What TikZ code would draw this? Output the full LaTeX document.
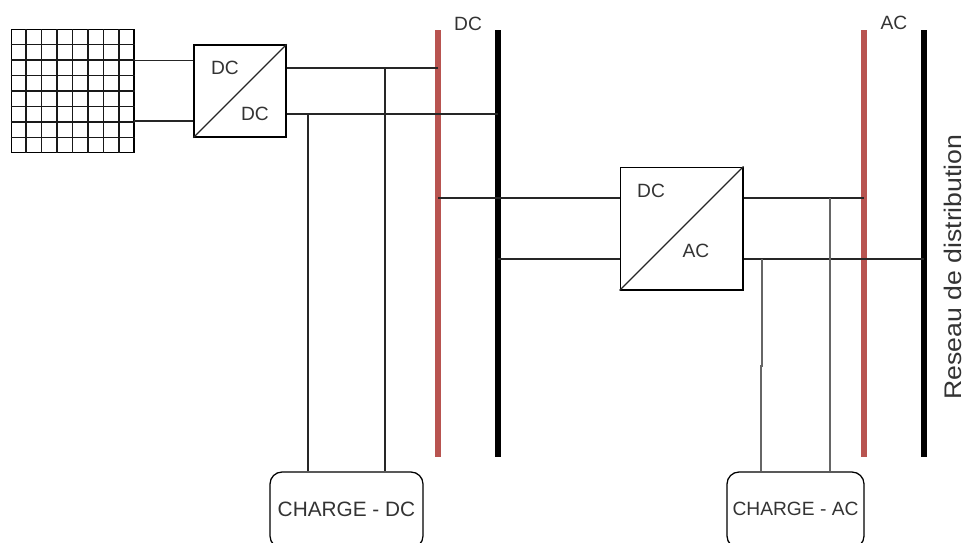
\documentclass[tikz,border=0pt]{standalone}
\usepackage{fontspec}
\usetikzlibrary{calc}
\setmainfont{Liberation Sans}
\definecolor{busred}{HTML}{B85450}
\definecolor{txtgray}{HTML}{333333}
\tikzset{
  conv/.style={draw,line width=1pt,rectangle,inner sep=0pt,minimum size=#1},
  charge/.style={draw,line width=0.95pt,rectangle,rounded corners=9pt,inner sep=0pt,minimum height=57pt,text=txtgray},
  wire/.style={draw=black!85,line width=0.85pt,-},
  gridline/.style={draw=black!90,line width=1pt,-},
  graywire/.style={draw=black!60,line width=1.05pt,-},
  busdc/.style={draw=busred,line width=4.5pt,-},
  busblack/.style={draw=black,line width=4.2pt,-},
  lbl/.style={text=txtgray,font=\fontsize{14.4}{16}\selectfont,inner sep=0pt}
}
\begin{document}
\begin{tikzpicture}[x=0.75pt,y=-0.75pt]
\useasboundingbox (0,0) rectangle (965,543);

\node[conv=92pt] (panel) at (72.5,91) {};
\node[conv=69pt] (conv1) at (240,91) {};
\node[conv=92pt] (conv2) at (681.5,228.5) {};
\node[charge,minimum width=114.75pt] (loaddc) at (346.5,510) {};
\node[charge,minimum width=102.75pt] (loadac) at (795.5,510) {};

\node[lbl] (c1in) at (225,68) {DC};
\node[lbl] (c1out) at (255,114) {DC};
\node[lbl] (c2in) at (651,191) {DC};
\node[lbl] (c2out) at (696,251) {AC};
\node[lbl,font=\fontsize{15.6}{16}\selectfont] at (346.5,509) {CHARGE - DC};
\node[lbl] at (795.5,509) {CHARGE - AC};
\node[lbl] (dclbl) at (468,24) {DC};
\node[lbl] (aclbl) at (894,23) {AC};
\node[lbl,rotate=90,font=\fontsize{18}{20}\selectfont] (grid) at (952.5,267) {\scalebox{1.11}[1]{Reseau de distribution}};

% bus bars
\coordinate (r1t) at (438,30);
\coordinate (r1b) at (438,457);
\coordinate (k1t) at (498,30);
\coordinate (k1b) at (498,457);
\coordinate (r2t) at (864,30);
\coordinate (r2b) at (864,457);
\coordinate (k2t) at (924,30);
\coordinate (k2b) at (924,457);
\path[busdc] (r1t) -- (r1b);
\path[busblack] (k1t) -- (k1b);
\path[busdc] (r2t) -- (r2b);
\path[busblack] (k2t) -- (k2b);

% solar panel grid
\foreach \i in {1,...,7} {
  \path[gridline] ($(panel.north west)!\i/8!(panel.north east)$) -- ($(panel.south west)!\i/8!(panel.south east)$);
  \path[gridline] ($(panel.north west)!\i/8!(panel.south west)$) -- ($(panel.north east)!\i/8!(panel.south east)$);
}
\path[wire] (conv1.south west) -- (conv1.north east);
\path[wire] (conv2.south west) -- (conv2.north east);

\coordinate (p1) at (134,60.5);
\coordinate (p2) at (134,121);
\path[wire] (p1) -- (conv1.west |- p1);
\path[wire] (p2) -- (conv1.west |- p2);

\coordinate (j1) at (385,68);
\coordinate (j2) at (308,114);
\path[wire] (conv1.east |- j1) -- (r1t |- j1);
\path[wire] (conv1.east |- j2) -- (k1t |- j2);
\path[wire] (j1) -- (j1 |- loaddc.north);
\path[wire] (j2) -- (j2 |- loaddc.north);

\coordinate (i1) at (438,198);
\coordinate (i2) at (498,259);
\path[wire] (i1) -- (conv2.west |- i1);
\path[wire] (i2) -- (conv2.west |- i2);

\coordinate (j3) at (830,198);
\coordinate (j4) at (762,259);
\coordinate (j5) at (762,366);
\coordinate (j6) at (761,366);
\path[wire] (conv2.east |- j3) -- (r2t |- j3);
\path[wire] (conv2.east |- j4) -- (k2t |- j4);
\path[graywire] (j3) -- (j3 |- loadac.north);
\path[graywire] (j4) -- (j5) -- (j6) -- (j6 |- loadac.north);
\end{tikzpicture}
\end{document}
